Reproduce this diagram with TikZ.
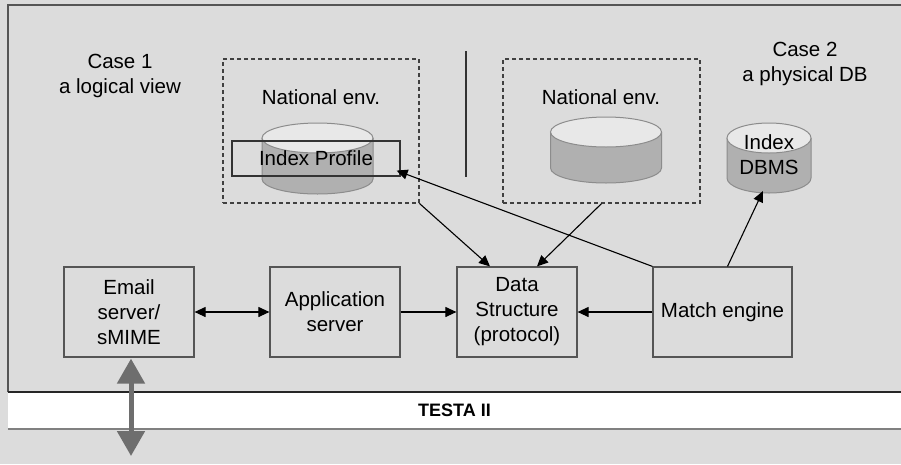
\documentclass[tikz,border=0pt]{standalone}
\usepackage{fontspec}
\setmainfont{Liberation Sans}
\usetikzlibrary{arrows.meta,calc}
\definecolor{bg}{HTML}{DCDCDC}
\definecolor{frame}{HTML}{555555}
\definecolor{cylside}{HTML}{B0B0B0}
\definecolor{cyltop}{HTML}{E8E8E8}
\definecolor{cylline}{HTML}{8C8C8C}
\definecolor{biggray}{HTML}{6E6E6E}
\tikzset{
  x=1pt, y=1pt,
  txt/.style={inner sep=0pt, align=center, font=\fontsize{20.5}{25}\selectfont},
  box/.style={draw=frame, line width=1.2pt, inner sep=0pt, align=center,
    minimum height=90pt, font=\fontsize{20.5}{25}\selectfont},
  envbox/.style={draw=black!75, line width=1.2pt, dash pattern=on 4pt off 3pt,
    minimum width=196pt, minimum height=144pt, inner sep=0pt},
  conn/.style={line width=1.1pt, -{Triangle[length=11pt,width=10pt]}},
  dconn/.style={line width=1.1pt, {Triangle[length=11pt,width=10pt]}-{Triangle[length=11pt,width=10pt]}},
  pics/dbcyl/.style args={#1/#2}{code={
    \fill[cylside] (-#1,0) -- (-#1,-#2) arc[start angle=180,end angle=360,x radius=#1,y radius=15]
      -- (#1,0) arc[start angle=0,end angle=-180,x radius=#1,y radius=15] -- cycle;
    \draw[cylline, line width=1pt] (-#1,0) -- (-#1,-#2) arc[start angle=180,end angle=360,x radius=#1,y radius=15] -- (#1,0);
    \filldraw[fill=cyltop, draw=cylline, line width=1pt] (0,0) ellipse[x radius=#1, y radius=15];
  }}
}
\begin{document}
\begin{tikzpicture}
\fill[bg] (0,0) rectangle (901,-464);
\useasboundingbox (0,0) rectangle (901,-464);

% main frame
\draw[frame, line width=1.5pt] (8,-392) -- (8,-5) -- (905,-5);

% case labels
\node[txt] (case1) at (120,-76) {Case 1\\a logical view};
\node[txt] (case2) at (805,-64) {Case 2\\a physical DB};

% national environments
\node[envbox] (env1) at (321,-131) {};
\node[envbox, minimum width=197pt] (env2) at (601.5,-131) {};
\node[txt] (nat1) at (321,-97) {National env.};
\node[txt] (nat2) at (601,-97) {National env.};
\coordinate (divtop) at (466,-51);
\coordinate (divbot) at (466,-177);
\draw[black!80, line width=1.2pt] (divtop) -- (divbot);

% cylinders
\pic at (317.5,-138) {dbcyl={55.5/41}};
\pic at (606,-132) {dbcyl={55.5/36}};
\pic at (769,-138) {dbcyl={42/40}};
\node[draw=black!80, line width=1.2pt, minimum width=168pt, minimum height=35pt, inner sep=0pt,
  font=\fontsize{20.5}{25}\selectfont] (idxprof) at (316,-158.5) {Index Profile};
\node[txt] (dbms) at (769,-155) {Index\\DBMS};
\coordinate (dbmsbot) at (763,-191);

% lower boxes
\node[box, minimum width=130pt] (email) at (129,-312) {Email\\server/\\sMIME};
\node[box, minimum width=130pt] (app) at (335,-312) {Application\\server};
\node[box, minimum width=120pt] (ds) at (517,-312) {Data\\Structure\\(protocol)};
\node[box, minimum width=139pt] (match) at (722.5,-312) {Match engine};

% connectors
\draw[dconn] (email.east) -- (app.west);
\draw[conn] (app.east) -- (ds.west);
\draw[conn] (match.west) -- (ds.east);
\draw[conn] (env1.south east) -- ([xshift=-27pt]ds.north);
\draw[conn] (env2.south) -- ([xshift=20pt]ds.north);
\draw[conn] (match.north west) -- ([shift={(-4pt,6pt)}]idxprof.south east);
\draw[conn] ([xshift=5pt]match.north) -- (dbmsbot);

% TESTA bar
\node[fill=white, minimum width=893pt, minimum height=37pt, inner sep=0pt,
  font=\bfseries\fontsize{18}{22}\selectfont] (testa) at (454.5,-410.5) {TESTA II};
\draw[black!85, line width=1.5pt] (testa.north west) -- (testa.north east);
\draw[black!50, line width=2pt] (testa.south west) -- (testa.south east);

% big gray double arrow
\coordinate (netend) at (131,-456);
\draw[biggray, line width=5pt, {Triangle[length=25pt,width=27pt]}-{Triangle[length=25pt,width=27pt]}]
  ([xshift=2pt,yshift=-1pt]email.south) -- (netend);
\end{tikzpicture}
\end{document}
